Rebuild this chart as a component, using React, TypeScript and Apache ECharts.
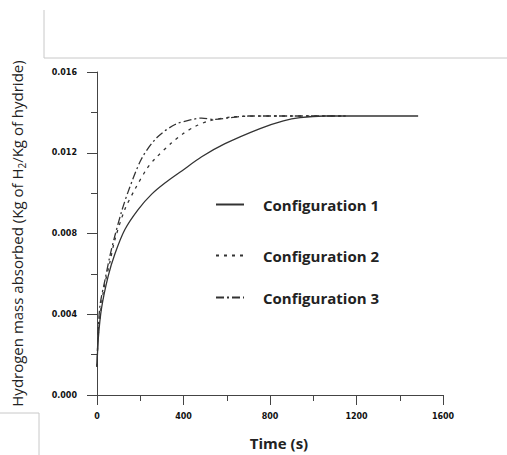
import React, { useEffect, useRef } from "react";
import * as echarts from "echarts";

const xTicks = [0, 400, 800, 1200, 1600];
const yTicks = [0, 0.004, 0.008, 0.012, 0.016];

const seriesNames = ["Configuration 1", "Configuration 2", "Configuration 3"];

const t1 = [0, 6, 21, 52, 83, 129, 191, 253, 314, 392, 484, 592, 754, 862, 939, 1050, 1200, 1485];
const v1 = [0.0014, 0.0028, 0.0043, 0.0059, 0.0070, 0.0082, 0.0092, 0.00995, 0.0105, 0.0111, 0.0118, 0.01245, 0.0132, 0.01358, 0.01374, 0.01382, 0.01382, 0.01382];

const t2 = [0, 6, 29, 60, 83, 129, 176, 230, 268, 345, 399, 453, 520, 630, 800, 1150];
const v2 = [0.0014, 0.003, 0.0051, 0.0066, 0.0077, 0.0092, 0.0102, 0.0112, 0.0117, 0.01249, 0.01295, 0.0133, 0.01358, 0.01378, 0.01382, 0.01382];

const t3 = [0, 5, 14, 37, 60, 83, 114, 145, 206, 276, 361, 438, 484, 546, 620, 700, 900, 1150];
const v3 = [0.0014, 0.003, 0.00445, 0.0057, 0.0069, 0.0079, 0.0091, 0.0101, 0.0117, 0.01274, 0.0134, 0.01364, 0.01372, 0.01365, 0.01374, 0.01382, 0.01382, 0.01382];

const pair = (t: number[], v: number[]) => t.map((x, i) => [x, v[i]]);

export default function App() {
  const ref = useRef<HTMLDivElement>(null);
  useEffect(() => {
    document.body.style.margin = "0";
    const chart = echarts.init(ref.current!, null, { renderer: "svg" });
    const lineColor = "#333";
    const axisCommon = {
      axisLine: { show: true, lineStyle: { color: "#444", width: 1 } },
      axisTick: { show: true, length: 10, lineStyle: { color: "#444", width: 1 } },
      minorTick: { show: true, splitNumber: 2, length: 6, lineStyle: { color: "#444", width: 1 } },
      splitLine: { show: false },
      minorSplitLine: { show: false },
    };
    const legendCommon = {
      orient: "vertical" as const,
      padding: 0,
      itemWidth: 28,
      itemHeight: 10,
      itemGap: 20,
      itemStyle: { color: "transparent", borderColor: "transparent", borderWidth: 0, opacity: 0 },
      textStyle: { fontFamily: "Open Sans", fontWeight: "bold" as const, fontSize: 15, color: "#222", padding: [0, 0, 0, 14] },
    };
    chart.setOption({
      animation: false,
      grid: { left: 97, right: 64, top: 72, bottom: 58, containLabel: false },
      xAxis: {
        type: "value",
        min: xTicks[0],
        max: xTicks[xTicks.length - 1],
        interval: 400,
        ...axisCommon,
        axisLabel: {
          margin: 17,
          fontFamily: "DejaVu Sans",
          fontWeight: "bold",
          fontSize: 8,
          color: "#111",
          formatter: (v: number) => String(v),
        },
        name: "Time (s)",
        nameLocation: "middle",
        nameGap: 40,
        nameTextStyle: { fontFamily: "Open Sans", fontWeight: "bold", fontSize: 15, color: "#222", padding: [0, 0, 0, 18] },
      },
      yAxis: {
        type: "value",
        min: yTicks[0],
        max: yTicks[yTicks.length - 1],
        interval: 0.004,
        ...axisCommon,
        axisLabel: {
          margin: 20,
          fontFamily: "DejaVu Sans",
          fontWeight: "bold",
          fontSize: 8,
          color: "#111",
          formatter: (v: number) => v.toFixed(3),
        },
        name: "{a|Hydrogen mass absorbed (Kg of H}{s|2}{a|/Kg of hydride)}",
        nameLocation: "middle",
        nameGap: 70,
        nameTextStyle: {
          fontFamily: "Open Sans",
          fontSize: 15,
          color: "#222",
          rich: {
            a: { fontFamily: "Open Sans", fontSize: 15, color: "#222", lineHeight: 20 },
            s: { fontFamily: "Open Sans", fontSize: 10, color: "#222", lineHeight: 20, verticalAlign: "bottom", padding: [7, 0, 0, 0] },
          },
        },
      },
      legend: [
        { ...legendCommon, left: 215, top: 197, data: [seriesNames[0]] },
        { ...legendCommon, left: 215, top: 248, data: [seriesNames[1]] },
        { ...legendCommon, left: 215, top: 290, data: [seriesNames[2]] },
      ],
      series: [
        {
          name: seriesNames[0],
          type: "line",
          smooth: 0.3,
          symbol: "none",
          data: pair(t1, v1),
          lineStyle: { color: lineColor, width: 1.3, type: "solid" },
          itemStyle: { color: lineColor },
        },
        {
          name: seriesNames[1],
          type: "line",
          smooth: 0.3,
          symbol: "none",
          data: pair(t2, v2),
          lineStyle: { color: lineColor, width: 1.3, type: [3, 5] },
          itemStyle: { color: lineColor },
        },
        {
          name: seriesNames[2],
          type: "line",
          smooth: 0.3,
          symbol: "none",
          data: pair(t3, v3),
          lineStyle: { color: lineColor, width: 1.3, type: [8, 3, 2, 3] },
          itemStyle: { color: lineColor },
        },
      ],
      graphic: [
        { type: "line", shape: { x1: 44, y1: 10, x2: 44, y2: 58 }, style: { stroke: "#c8c8c8", lineWidth: 1 } },
        { type: "line", shape: { x1: 44, y1: 58, x2: 507, y2: 58 }, style: { stroke: "#c8c8c8", lineWidth: 1 } },
        { type: "line", shape: { x1: 0, y1: 413, x2: 39, y2: 413 }, style: { stroke: "#c8c8c8", lineWidth: 1 } },
        { type: "line", shape: { x1: 39, y1: 413, x2: 39, y2: 455 }, style: { stroke: "#c8c8c8", lineWidth: 1 } },
      ],
    });
    return () => chart.dispose();
  }, []);
  return <div ref={ref} style={{ position: "fixed", left: 0, top: 0, width: 507, height: 455, background: "#fff" }} />;
}
